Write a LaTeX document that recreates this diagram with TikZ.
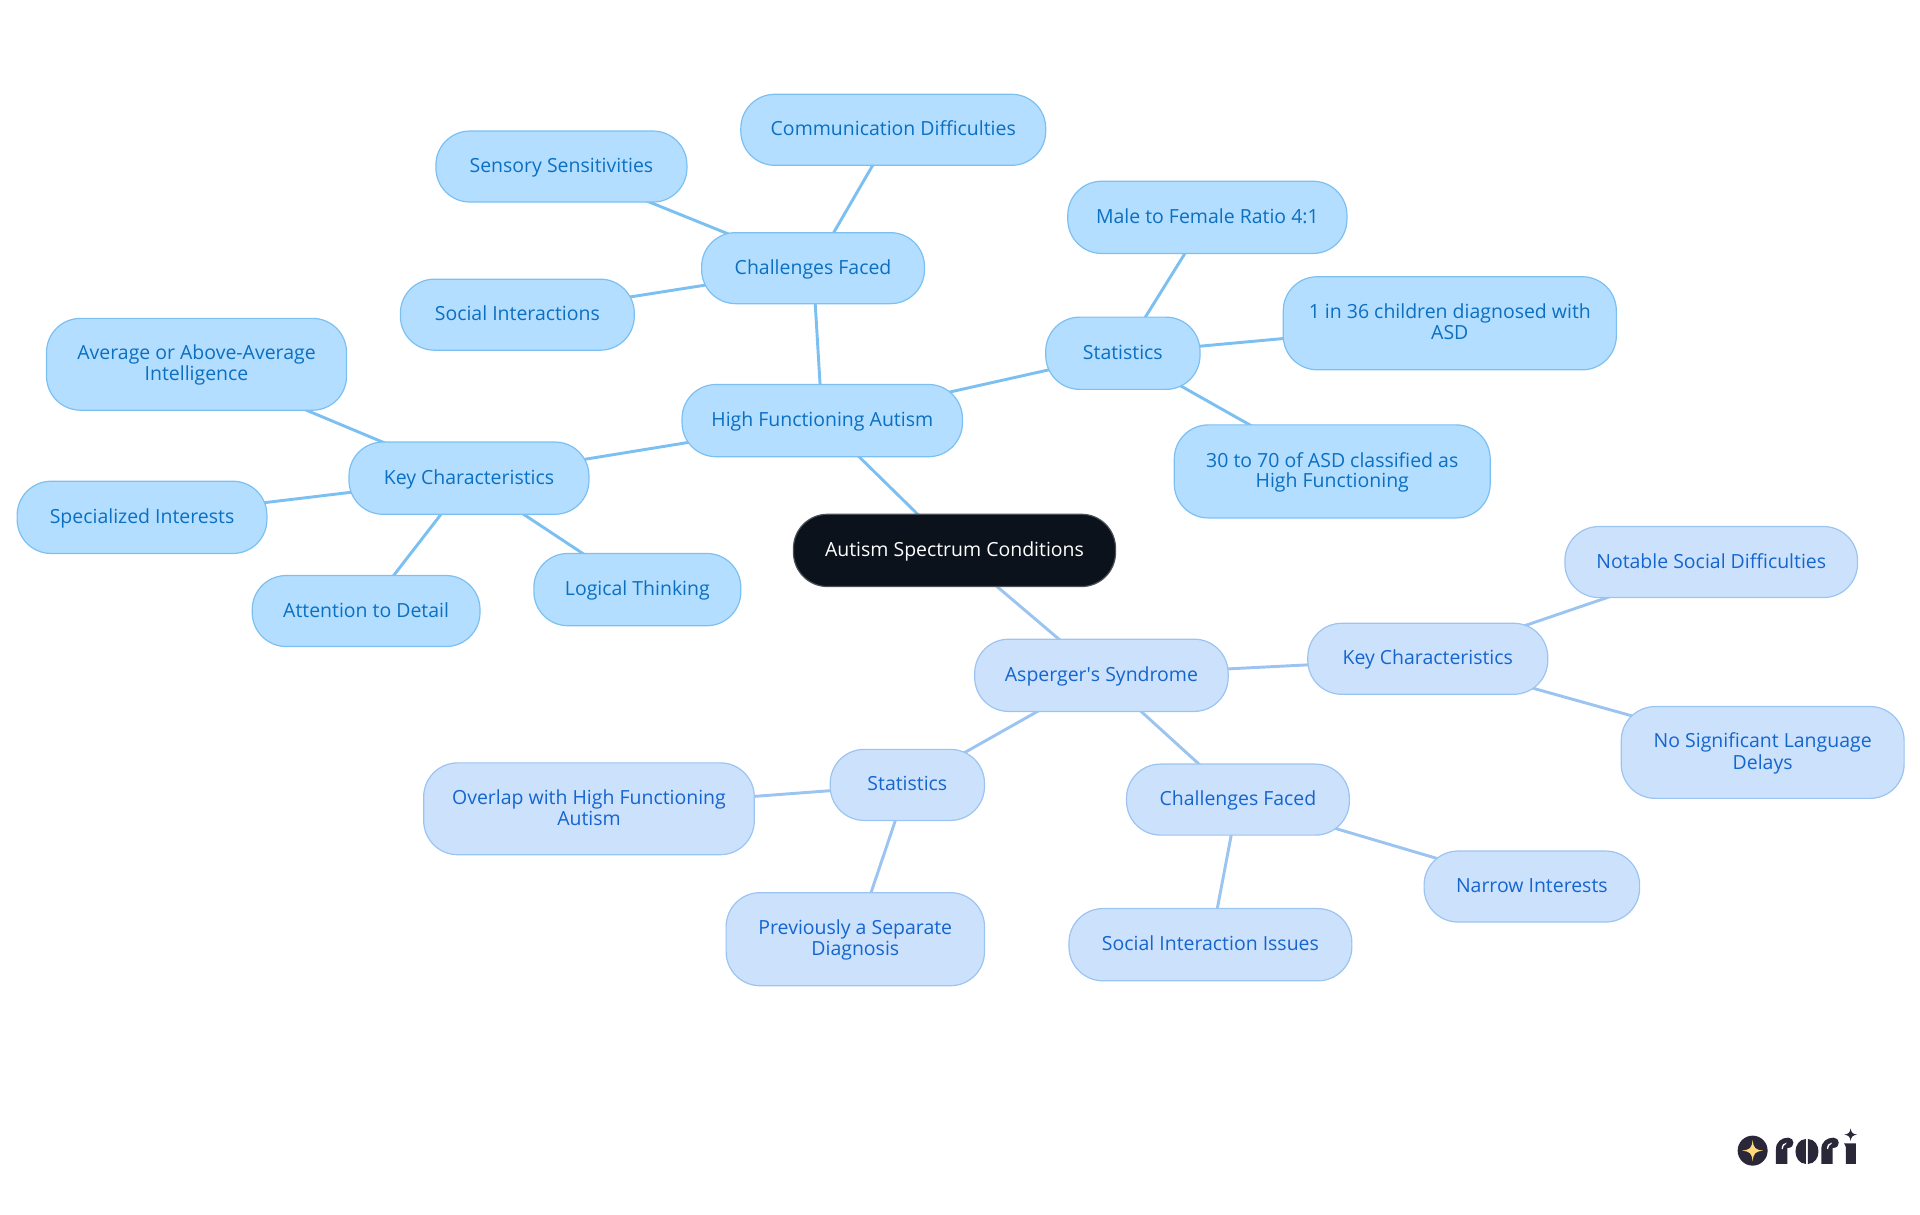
\documentclass[tikz,border=0pt]{standalone}
\usepackage{fontspec}
\setmainfont{Open Sans}
\newfontfamily\plainap{Open Sans}
\usetikzlibrary{backgrounds}
\definecolor{hfafill}{HTML}{B3DEFF}
\definecolor{hfaline}{HTML}{7CC0F2}
\definecolor{hfatext}{HTML}{0B6FC2}
\definecolor{asfill}{HTML}{CCE2FC}
\definecolor{asline}{HTML}{9CC4F0}
\definecolor{astext}{HTML}{1565CF}
\definecolor{rootfill}{HTML}{0B121B}
\definecolor{rootline}{HTML}{4A5058}
\definecolor{logodark}{HTML}{2A2838}
\definecolor{logogold}{HTML}{FFD97A}
\tikzset{
  mapnode/.style={rectangle,rounded corners=25.5pt,inner sep=0pt,outer sep=0pt,align=center,
    line width=0.9pt,font=\fontsize{14.6pt}{16pt}\selectfont},
  hfanode/.style={mapnode,fill=hfafill,draw=hfaline,text=hfatext},
  asnode/.style={mapnode,fill=asfill,draw=asline,text=astext},
  rootnode/.style={mapnode,fill=rootfill,draw=rootline,text=white},
  hfaedge/.style={draw=hfaline,line width=2.2pt},
  asedge/.style={draw=asline,line width=2.2pt}
}
\newcommand{\ml}{\rule[-3.5pt]{0pt}{16pt}}
% name, x1, y1, x2, y2, style, text
\newcommand{\mapbox}[7]{%
  \pgfmathsetmacro{\bw}{(#4-#2)*0.9184}%
  \pgfmathsetmacro{\bh}{(#5-#3)*0.9184}%
  \pgfmathsetmacro{\bx}{(#2+#4)/2}%
  \pgfmathsetmacro{\by}{(#3+#5)/2}%
  \node[#6,minimum width=\bw pt,minimum height=\bh pt] (#1) at (\bx,\by) {\ml #7};}
\begin{document}
\begin{tikzpicture}[x=0.9184pt,y=-0.9184pt]
\useasboundingbox (0,0) rectangle (1568,992.25);
\mapbox{root}{648}{420}{911}{479}{rootnode}{Autism Spectrum Conditions}
\mapbox{hfa}{557}{314}{786}{373}{hfanode}{High Functioning Autism}
\mapbox{asp}{796}{522}{1003}{581}{asnode}{Asperger{\plainap '}s Syndrome}
\mapbox{chal}{573}{190}{755}{248}{hfanode}{Challenges Faced}
\mapbox{comm}{605}{77}{854}{135}{hfanode}{Communication Difficulties}
\mapbox{sens}{356}{107}{561}{165}{hfanode}{Sensory Sensitivities}
\mapbox{soci}{327}{228}{518}{286}{hfanode}{Social Interactions}
\mapbox{stat}{854}{259}{980}{318}{hfanode}{Statistics}
\mapbox{male}{872}{148}{1100}{207}{hfanode}{Male to Female Ratio 4:1}
\mapbox{one}{1048}{226}{1320}{302}{hfanode}{1 in 36 children diagnosed with\\[-1pt]\ml ASD}
\mapbox{thirty}{959}{347}{1217}{423}{hfanode}{30 to 70 of ASD classified as\\[-1pt]\ml High Functioning}
\mapbox{key}{285}{361}{481}{420}{hfanode}{Key Characteristics}
\mapbox{avg}{38}{260}{283}{335}{hfanode}{Average or Above-Average\\[-1pt]\ml Intelligence}
\mapbox{spec}{14}{393}{218}{452}{hfanode}{Specialized Interests}
\mapbox{attn}{206}{470}{392}{528}{hfanode}{Attention to Detail}
\mapbox{logi}{436}{452}{605}{511}{hfanode}{Logical Thinking}
\mapbox{keyb}{1068}{509}{1264}{567}{asnode}{Key Characteristics}
\mapbox{nota}{1278}{430}{1517}{488}{asnode}{Notable Social Difficulties}
\mapbox{nosi}{1324}{577}{1555}{652}{asnode}{No Significant Language\\[-1pt]\ml Delays}
\mapbox{chalb}{920}{624}{1102}{682}{asnode}{Challenges Faced}
\mapbox{narr}{1163}{695}{1339}{753}{asnode}{Narrow Interests}
\mapbox{socb}{873}{742}{1104}{801}{asnode}{Social Interaction Issues}
\mapbox{statb}{678}{612}{804}{670}{asnode}{Statistics}
\mapbox{over}{346}{623}{616}{698}{asnode}{Overlap with High Functioning\\[-1pt]\ml Autism}
\mapbox{prev}{593}{729}{804}{805}{asnode}{Previously a Separate\\[-1pt]\ml Diagnosis}
\begin{scope}[on background layer]
\foreach \a/\b in {root/hfa,hfa/chal,chal/comm,chal/sens,chal/soci,hfa/stat,stat/male,stat/one,stat/thirty,hfa/key,key/avg,key/spec,key/attn,key/logi}
  \draw[hfaedge] (\a.center) -- (\b.center);
\foreach \a/\b in {root/asp,asp/keyb,keyb/nota,keyb/nosi,asp/chalb,chalb/narr,chalb/socb,asp/statb,statb/over,statb/prev}
  \draw[asedge] (\a.center) -- (\b.center);
\end{scope}
% logo, drawn in units of the 3x crop
\begin{scope}[shift={(1260pt,-817.5pt)},x=0.25pt,y=-0.25pt]
\fill[logodark] (218,182) circle (45);
\fill[logogold] (218,150) .. controls (221,175) and (225,179) .. (250,182) .. controls (225,185) and (221,189) .. (218,214) .. controls (215,189) and (211,185) .. (186,182) .. controls (211,179) and (215,175) .. (218,150) -- cycle;
\fill[logodark] (288,222) -- (288,178) .. controls (288,155) and (305,143) .. (325,143) .. controls (344,143) and (347,172) .. (325,174) -- (322,174) -- (322,222) -- cycle;
\fill[white] (305,176) .. controls (305,165) and (312,158) .. (320,158) -- (318,162) .. controls (312,164) and (309,170) .. (308,178) -- cycle;
\fill[logodark] (378,222) .. controls (336,220) and (336,149) .. (378,147) -- cycle;
\fill[logodark] (384,147) .. controls (426,149) and (426,220) .. (384,222) -- cycle;
\fill[logodark] (424,222) -- (424,178) .. controls (424,155) and (441,143) .. (461,143) .. controls (480,143) and (483,172) .. (461,174) -- (458,174) -- (458,222) -- cycle;
\fill[white] (441,176) .. controls (441,165) and (448,158) .. (456,158) -- (454,162) .. controls (448,164) and (445,170) .. (444,178) -- cycle;
\fill[logodark] (492,160) -- (528,160) -- (528,222) -- (498,222) -- (498,172) .. controls (498,168) and (494,165) .. (492,160) -- cycle;
\fill[logodark] (512,115) .. controls (514,128) and (518,132) .. (531,134) .. controls (518,136) and (514,140) .. (512,153) .. controls (510,140) and (506,136) .. (493,134) .. controls (506,132) and (510,128) .. (512,115) -- cycle;
\end{scope}
\end{tikzpicture}
\end{document}
